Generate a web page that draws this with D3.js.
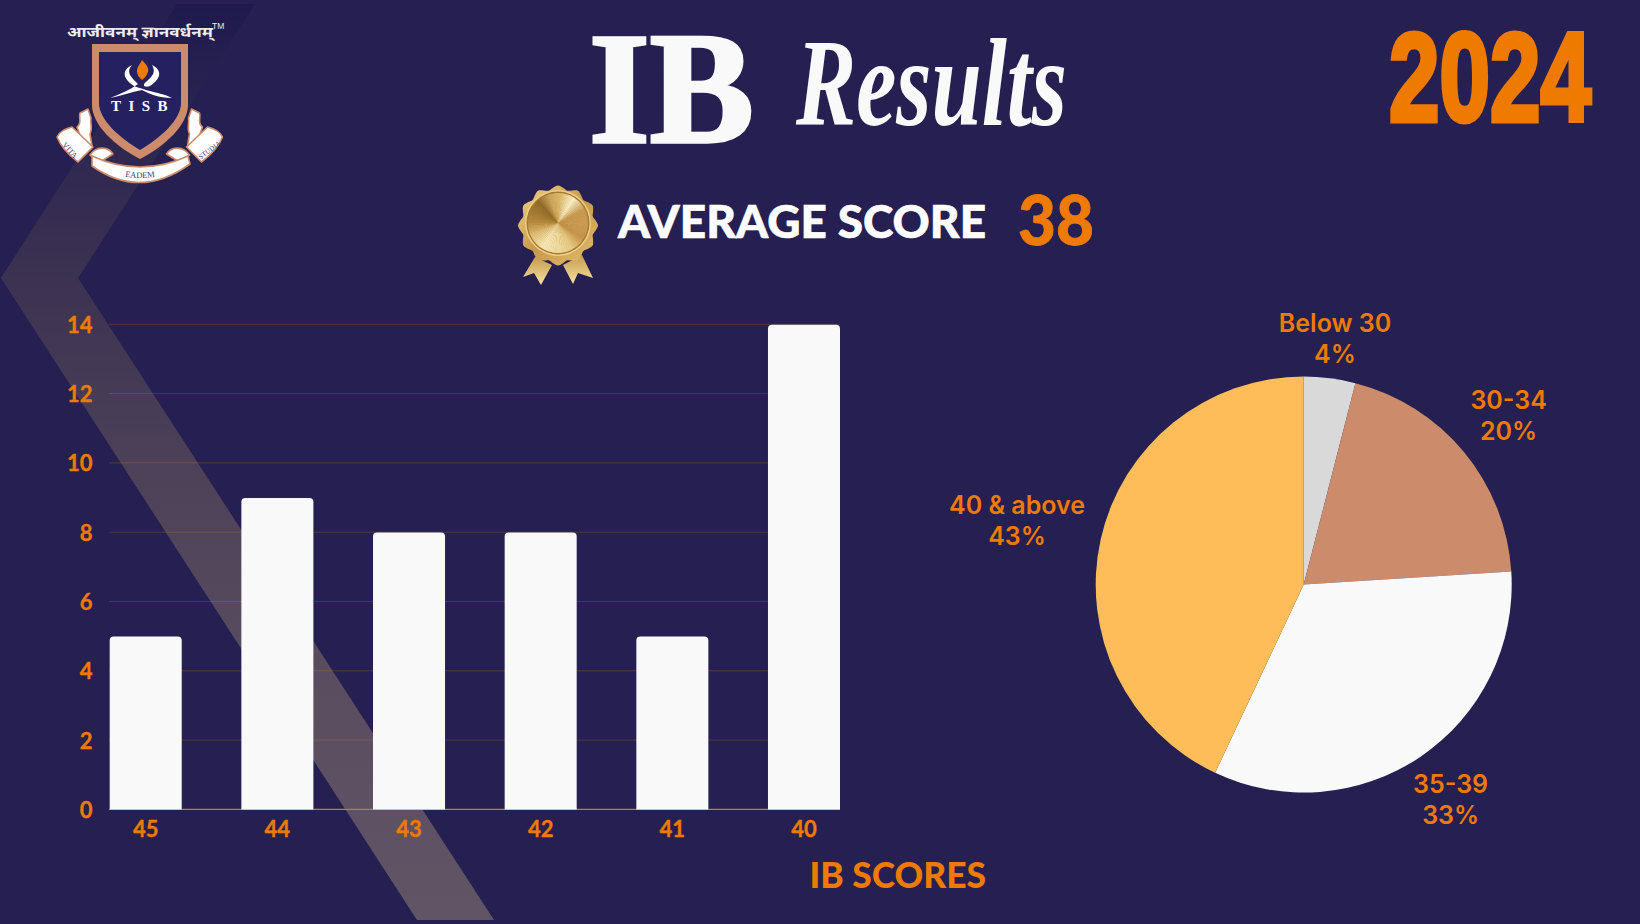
<!DOCTYPE html>
<html><head><meta charset="utf-8">
<script src="https://cdnjs.cloudflare.com/ajax/libs/d3/7.9.0/d3.min.js"></script>
<style>html,body{margin:0;padding:0;background:#252051;overflow:hidden}svg{display:block}</style>
</head><body><svg id="c" width="1640" height="924"></svg>
<script>
// ---- data ----
const scoreCategories = ["45","44","43","42","41","40"];
const scoreCounts = [5,9,8,8,5,14];
const yTicks = [0,2,4,6,8,10,12,14];
const bandLabels = ["Below 30","30-34","35-39","40 & above"];
const bandShares = [4,20,33,43];
const bandColors = ["#D9D9D9","#CC8B6A","#F9F9F9","#FFBD59"];
const averageScore = 38;

const BG="#252051", OR="#EE7A00", WH="#F9F9F9", CU="#CC8B6A";
const svg=d3.select("#c");
const defs=svg.append("defs");
svg.append("rect").attr("width",1640).attr("height",924).attr("fill",BG);

// background chevron
const rg=defs.append("linearGradient").attr("id","rib").attr("gradientUnits","userSpaceOnUse")
  .attr("x1",0).attr("x2",0).attr("y1",4).attr("y2",920);
[[0,"#1F1A4E"],[.12,"#2A2450"],[.3,"#3C3251"],[.5,"#4C4158"],[.75,"#5A4D60"],[1,"#615465"]]
  .forEach(s=>rg.append("stop").attr("offset",s[0]).attr("stop-color",s[1]));
svg.append("path").attr("d",d3.line()([[177,4],[255,4],[78,278],[494,920],[417,920],[1,278]])+"Z").attr("fill","url(#rib)");

// bar chart
const x=d3.scaleBand().domain(scoreCategories).range([109.7,840]).paddingInner(.453).paddingOuter(0);
const y=d3.scaleLinear().domain([0,14]).range([809.4,324.3]);
svg.append("g").selectAll("line").data(yTicks).join("line")
  .attr("x1",109).attr("x2",840).attr("y1",d=>y(d)).attr("y2",d=>y(d))
  .attr("stroke",d=>d===0?"#C07A4A":"#EE7A00").attr("stroke-opacity",d=>d===0?1:.25).attr("stroke-width",d=>d===0?1.3:1);
function topRound(x0,x1,yt,yb,r){const p=d3.path();p.moveTo(x0,yb);p.lineTo(x0,yt+r);p.arcTo(x0,yt,x0+r,yt,r);p.lineTo(x1-r,yt);p.arcTo(x1,yt,x1,yt+r,r);p.lineTo(x1,yb);p.closePath();return p.toString();}
svg.append("g").selectAll("path").data(scoreCounts).join("path")
  .attr("d",(d,i)=>{const c=scoreCategories[i];return topRound(x(c),x(c)+x.bandwidth(),y(d)+.4,y(0),4);})
  .attr("fill",WH);
const tickFont="font-family:Lato;font-weight:700;font-size:22px";
const ya=svg.append("g").attr("transform","translate(92.5,0)").call(d3.axisLeft(y).tickValues(yTicks).tickSize(0).tickPadding(0));
ya.select(".domain").remove();
ya.selectAll("text").attr("style",tickFont).attr("fill",OR).attr("stroke",OR).attr("stroke-width",.35).attr("dy","0.36em");
const xa=svg.append("g").attr("transform","translate(0,819.5)").call(d3.axisBottom(x).tickSize(0).tickPadding(0));
xa.select(".domain").remove();
xa.selectAll("text").attr("style",tickFont).attr("fill",OR).attr("stroke",OR).attr("stroke-width",.35).attr("dy","0.8em");
svg.append("text").text("IB SCORES").attr("x",809.5).attr("y",888).attr("textLength",176.5).attr("lengthAdjust","spacingAndGlyphs")
  .attr("style","font-family:Lato;font-weight:900;font-size:36px").attr("fill",OR);

// pie
const pc=[1303.7,584.6], R=208;
const pie=d3.pie().sort(null)(bandShares);
const arc=d3.arc().innerRadius(0).outerRadius(R);
const pieG=svg.append("g").attr("transform",`translate(${pc})`);
pieG.selectAll("path").data(pie).join("path").attr("d",arc).attr("fill",(d,i)=>bandColors[i]);
const labelPos=[[1335,332],[1508.6,409],[1450.6,793],[1017,514]];
pieG.selectAll("text").data(pie).join("text").attr("text-anchor","middle")
  .attr("style","font-family:Inter;font-weight:600;font-size:25px").attr("fill",OR)
  .each(function(d,i){
    const t=d3.select(this), lx=labelPos[i][0]-pc[0], ly=labelPos[i][1]-pc[1];
    t.append("tspan").attr("x",lx).attr("y",ly).text(bandLabels[i]);
    t.append("tspan").attr("x",lx).attr("y",ly+31).text(d.data+"%");
  });

// titles
svg.append("text").text("IB").attr("x",589).attr("y",141.5).attr("textLength",165).attr("lengthAdjust","spacingAndGlyphs")
  .attr("style","font-family:'Liberation Serif';font-weight:700;font-size:158px")
  .attr("fill",WH).attr("stroke",WH).attr("stroke-width",3.5).attr("stroke-linejoin","miter");
svg.append("text").text("Results").attr("x",796).attr("y",125).attr("textLength",271).attr("lengthAdjust","spacingAndGlyphs")
  .attr("style","font-family:'Liberation Serif';font-style:italic;font-weight:700;font-size:124px").attr("fill",WH);
const yr=svg.append("text").text("2024")
  .attr("style","font-family:'Liberation Sans';font-weight:700;font-size:126px")
  .attr("fill",OR).attr("stroke",OR).attr("stroke-width",5).attr("stroke-linejoin","miter");
yr.attr("transform",`translate(1389,120.5) scale(${202/yr.node().getComputedTextLength()},1)`);
svg.append("text").text("AVERAGE SCORE").attr("x",618).attr("y",238).attr("textLength",368).attr("lengthAdjust","spacingAndGlyphs")
  .attr("style","font-family:Lato;font-weight:900;font-size:46px").attr("fill","#fff").attr("stroke","#fff").attr("stroke-width",.6);
svg.append("text").text(averageScore).attr("x",1018).attr("y",245).attr("textLength",76).attr("lengthAdjust","spacingAndGlyphs")
  .attr("style","font-family:Lato;font-weight:900;font-size:68px").attr("fill",OR).attr("stroke",OR).attr("stroke-width",.8);

// medal
const mg=svg.append("g").attr("transform","translate(558,223)");
const gold=defs.append("linearGradient").attr("id","gold").attr("x1",0).attr("y1",0).attr("x2",1).attr("y2",1);
[[0,"#F0D58A"],[.5,"#C9994A"],[1,"#E3BE6E"]].forEach(s=>gold.append("stop").attr("offset",s[0]).attr("stop-color",s[1]));
const ribG=defs.append("linearGradient").attr("id","ribg").attr("x1",0).attr("y1",0).attr("x2",0).attr("y2",1);
[[0,"#C79A4E"],[1,"#F6E3A0"]].forEach(s=>ribG.append("stop").attr("offset",s[0]).attr("stop-color",s[1]));
mg.selectAll("path.t").data([[[-23,34],[-35,54],[-24,50],[-17,62],[-6,42]],[[5,42],[15,61],[20,50],[35,55],[24,32]]])
  .join("path").attr("class","t").attr("d",d=>d3.line()(d)+"Z").attr("fill","url(#ribg)");
const scal=d3.range(0,48).map(i=>[i/48*2*Math.PI,(i%4===0?40:i%4===2?36:38)]);
mg.append("path").attr("transform","translate(0,2.5)").attr("d",d3.lineRadial().curve(d3.curveCatmullRomClosed)(scal)).attr("fill","url(#gold)");
mg.append("circle").attr("r",33).attr("fill","#EAD08A");
mg.append("circle").attr("r",31.5).attr("fill","#A9772F");
const wedge=d3.arc().innerRadius(0).outerRadius(30);
const con=d3.scaleLinear().domain([0,30,60,90,120,150,210,240,270,315,340,360])
  .range(["#D9B565","#F8EDC4","#C89B4F","#C99B52","#C7964B","#E6CB85","#F5E6B4","#E0C076","#B4883C","#8F6A2A","#CCA65C","#D9B565"]);
mg.selectAll("path.w").data(d3.range(0,72)).join("path").attr("class","w")
  .attr("d",i=>wedge({startAngle:i*5*Math.PI/180,endAngle:(i+1.15)*5*Math.PI/180})).attr("fill",i=>con(i*5));

// logo
const lg=svg.append("g");
lg.append("text").text("आजीवनम् ज्ञानवर्धनम्").attr("x",67).attr("y",37).attr("textLength",146).attr("lengthAdjust","spacingAndGlyphs")
  .attr("style","font-family:'Noto Sans Devanagari','Noto Serif Devanagari','Noto Sans';font-weight:700;font-size:15px").attr("fill","#EDEDED");
lg.append("text").text("TM").attr("x",212).attr("y",29).attr("style","font-family:'Liberation Sans';font-size:8.5px").attr("fill","#EDEDED");
const scrollParts=[
  "M77,127 C83,122 78,118 80,113 L88,109 L91,118 C90,124 93,128 90,134 L92,146 L84,146 Z",
  "M57,137 Q60,130 72,127 L93,147 L78,162 Q62,150 57,137 Z",
  "M90,155 C96,146 108,146 113,154 L100,162 Z",
  "M92,156 Q140,178 188,156 L190,164 Q140,200 92,166 Z",
];
const mirror=s=>s.replace(/(-?[\d.]+),(-?[\d.]+)/g,(m,a,b)=>`${279.5-(+a)},${b}`);
lg.append("g").selectAll("path").data([...scrollParts.slice(0,3),...scrollParts.slice(0,3).map(mirror),scrollParts[3]]).join("path")
  .attr("d",d=>d).attr("fill","#fff").attr("stroke",CU).attr("stroke-width",1.6).attr("stroke-linejoin","round");
lg.append("path").attr("d","M92,44 H188 V105 C188,125 165,146 140,159 C115,146 92,125 92,105 Z").attr("fill",CU);
lg.append("path").attr("d","M99,52 H181 V103 C181,120 160,138 140,150 C120,138 99,120 99,103 Z").attr("fill","#252060");
lg.append("path").attr("d","M142,60 C148,66 150,70 147,74 C146,77 144,78 142,80 C139,77 137,75 137,71 C137,67 140,64 142,60 Z").attr("fill",OR);
lg.append("path").attr("d","M132,65 C122,70 122,78 134,86 C156,94 160,92 172,98 C158,98 150,94 142,90 C132,92 120,96 110,98 C120,94 130,90 138,84 C130,76 126,72 132,65 Z").attr("fill","#fff");
lg.append("path").attr("d","M152,65 C162,70 162,78 150,86 C144,88 142,85 146,82 C153,76 156,72 152,65 Z").attr("fill","#fff");
lg.append("text").text("TISB").attr("x",143).attr("y",110.5).attr("text-anchor","middle").attr("letter-spacing",7.5)
  .attr("style","font-family:'Liberation Serif';font-weight:700;font-size:15px").attr("fill","#fff");
defs.append("path").attr("id","eadenP").attr("d","M112,174 Q140,182 168,174");
defs.append("path").attr("id","vitaP").attr("d","M55,138 L81,166");
defs.append("path").attr("id","studP").attr("d","M192,166 L230,138");
[["VITA","vitaP",8],["EADEM","eadenP",8.5],["STUDIA","studP",7]].forEach(([t,id,s])=>{
  lg.append("text").attr("style",`font-family:'Liberation Serif';font-size:${s}px`).attr("fill","#3A3A70")
    .append("textPath").attr("href","#"+id).attr("startOffset","50%").attr("text-anchor","middle").text(t);
});
</script></body></html>
